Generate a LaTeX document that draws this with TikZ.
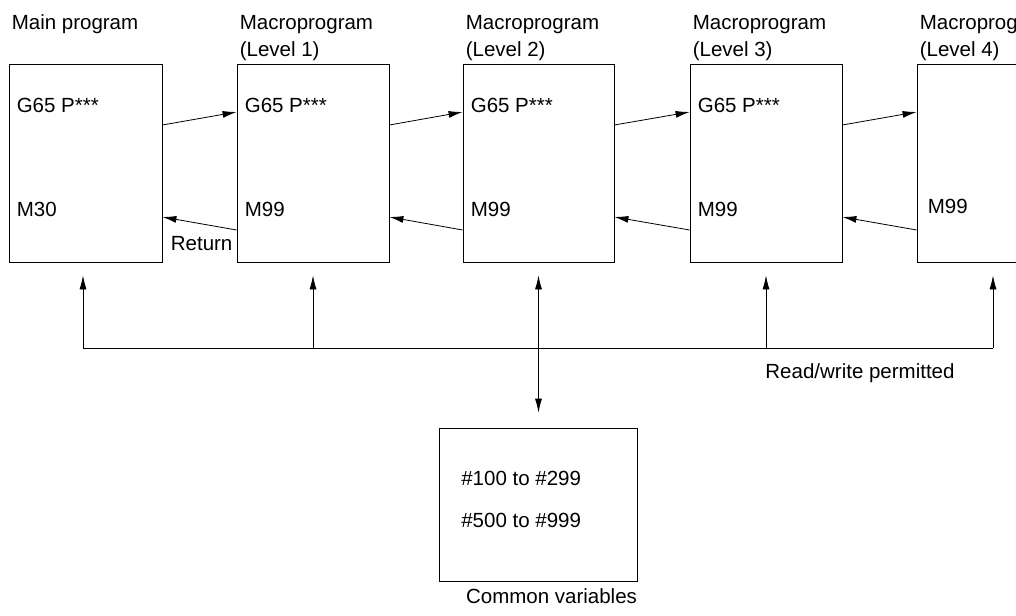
\documentclass[tikz,border=0pt]{standalone}
\usepackage{fontspec}
\setmainfont{Liberation Sans}
\usetikzlibrary{arrows.meta,calc}
\begin{document}
\begin{tikzpicture}[x=1pt,y=-1pt,
  every node/.style={font=\fontsize{20.5}{24}\selectfont, inner sep=0pt},
  prog/.style={draw, line width=0.8pt, minimum width=152pt, minimum height=198pt},
  lbl/.style={anchor=base west},
  arr/.style={line width=0.8pt, -{Latex[length=14pt,width=7pt]}},
  darr/.style={line width=0.8pt, {Latex[length=14pt,width=7pt]}-{Latex[length=14pt,width=7pt]}},
  ln/.style={line width=0.8pt}]
\clip (0,0) rectangle (1016,615);
% program boxes
\node[prog, minimum width=153pt] (main) at (85.5,163) {};
\node[prog] (l1) at (313,163) {};
\node[prog, minimum width=151pt] (l2) at (538.5,163) {};
\node[prog] (l3) at (766,163) {};
\node[prog] (l4) at (993,163) {};
\node[draw, line width=0.8pt, minimum width=198pt, minimum height=153pt] (cv) at (538.5,504.5) {};
% headings
\node[lbl] (t0) at ($(main.north west)+(3,-34)$) {Main program};
\node[lbl] (t1a) at ($(l1.north west)+(3,-34)$) {Macroprogram};
\node[lbl] (t1b) at ($(l1.north west)+(3,-7)$) {(Level 1)};
\node[lbl] (t2a) at ($(l2.north west)+(3,-34)$) {Macroprogram};
\node[lbl] (t2b) at ($(l2.north west)+(3,-7)$) {(Level 2)};
\node[lbl] (t3a) at ($(l3.north west)+(3,-34)$) {Macroprogram};
\node[lbl] (t3b) at ($(l3.north west)+(3,-7)$) {(Level 3)};
\node[lbl] (t4a) at ($(l4.north west)+(3,-34)$) {Macroprogram};
\node[lbl] (t4b) at ($(l4.north west)+(3,-7)$) {(Level 4)};
% box contents
\node[lbl] (g0) at ($(main.north west)+(8,49)$) {G65 P***};
\node[lbl] (m0) at ($(main.north west)+(8,153)$) {M30};
\node[lbl] (g1) at ($(l1.north west)+(8,49)$) {G65 P***};
\node[lbl] (m1) at ($(l1.north west)+(8,153)$) {M99};
\node[lbl] (g2) at ($(l2.north west)+(8,49)$) {G65 P***};
\node[lbl] (m2) at ($(l2.north west)+(8,153)$) {M99};
\node[lbl] (g3) at ($(l3.north west)+(8,49)$) {G65 P***};
\node[lbl] (m3) at ($(l3.north west)+(8,153)$) {M99};
\node[lbl] (m4) at ($(l4.north west)+(11,150)$) {M99};
% calls
\draw[arr] ($(main.east)+(0,-38)$) -- ($(l1.west)+(0,-51)$);
\draw[arr] ($(l1.east)+(0,-38)$) -- ($(l2.west)+(0,-51)$);
\draw[arr] ($(l2.east)+(0,-38)$) -- ($(l3.west)+(0,-51)$);
\draw[arr] ($(l3.east)+(0,-38)$) -- ($(l4.west)+(0,-51)$);
% returns
\draw[arr] ($(l1.west)+(0,67)$) -- ($(main.east)+(0,54)$);
\draw[arr] ($(l2.west)+(0,67)$) -- ($(l1.east)+(0,54)$);
\draw[arr] ($(l3.west)+(0,67)$) -- ($(l2.east)+(0,54)$);
\draw[arr] ($(l4.west)+(0,67)$) -- ($(l3.east)+(0,54)$);
\node[anchor=base east] (ret) at ($(l1.west)+(-4,87)$) {Return};
% common variable bus
\coordinate (busL) at ($(main.south)+(-2.5,86)$);
\coordinate (busR) at ($(l4.south)+(0,86)$);
\draw[ln] (busL) -- (busR);
\draw[arr] (busL) -- ($(main.south)+(-2.5,13)$);
\draw[arr] (l1.south |- busL) -- ($(l1.south)+(0,13)$);
\draw[arr] (l3.south |- busL) -- ($(l3.south)+(0,13)$);
\draw[arr] (busR) -- ($(l4.south)+(0,13)$);
\draw[darr] ($(l2.south)+(0,13)$) -- ($(cv.north)+(0,-15)$);
\node[anchor=base] (rw) at (860,378) {Read/write permitted};
% common variables box
\node[lbl] (v1) at ($(cv.north west)+(22,58)$) {\#100 to \#299};
\node[lbl] (v2) at ($(cv.north west)+(22,100)$) {\#500 to \#999};
\node[anchor=base] (cvl) at ($(cv.south)+(13,22)$) {Common variables};
\end{tikzpicture}
\end{document}
